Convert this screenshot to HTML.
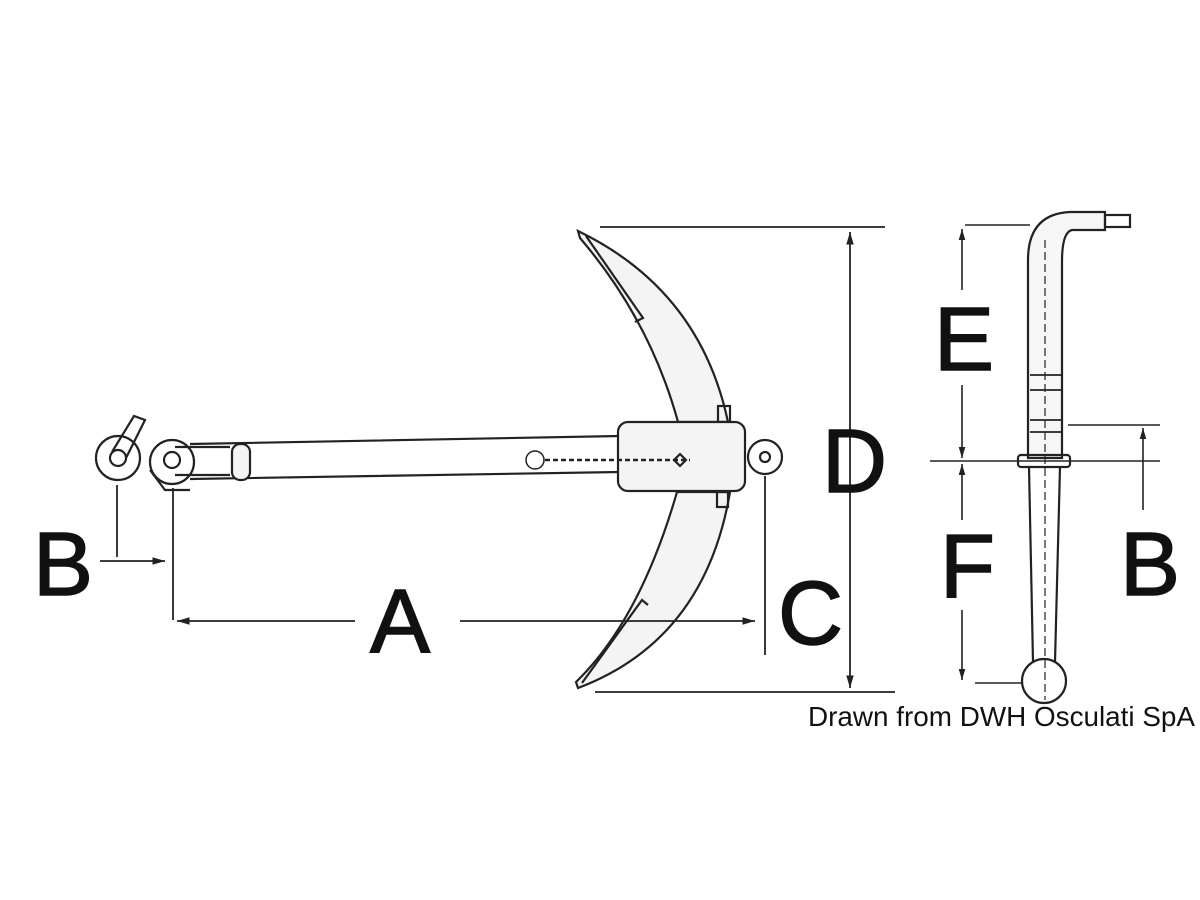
<!DOCTYPE html>
<html><head><meta charset="utf-8"><style>html,body{margin:0;padding:0;background:#fff}svg{display:block}</style></head>
<body>
<svg width="1200" height="900" viewBox="0 0 1200 900" xmlns="http://www.w3.org/2000/svg">
<defs><marker id="ar" viewBox="0 0 10 10" refX="10" refY="5" markerWidth="7" markerHeight="7" orient="auto-start-reverse"><path d="M0,2 L10,5 L0,8 z" fill="#222"/></marker></defs>
<g fill="none" stroke="#222" stroke-width="2.2">
<!-- upper fluke -->
<path d="M578,231 Q700,290 728,422 L678,422 Q650,320 580,238 Z" fill="#f4f4f4"/>
<path d="M586,236 L643,318 L635,322"/>
<!-- lower fluke -->
<path d="M578,688 Q705,640 730,492 L677,492 Q640,620 576,682 Z" fill="#f4f4f4"/>
<path d="M582,683 L642,600 L648,605"/>
<rect x="718" y="406" width="12" height="16"/>
<rect x="717" y="492" width="11" height="15"/>
<!-- shank -->
<path d="M190,444 L620,436 M190,479 L620,472"/>
<rect x="232" y="444" width="18" height="36" rx="8" fill="#f4f4f4"/>
<rect x="618" y="422" width="127" height="69" rx="10" fill="#f4f4f4"/>
<circle cx="765" cy="457" r="17"/><circle cx="765" cy="457" r="5"/>
<circle cx="535" cy="460" r="9" stroke-width="1.5"/>
<path d="M545,460 L690,460" stroke-dasharray="5,3" stroke-width="2.5"/>
<path d="M680,454 L686,460 L680,466 L674,460 Z"/>
<!-- shackles -->
<circle cx="118" cy="458" r="22"/><circle cx="118" cy="458" r="8"/>
<path d="M112,452 L134,416 L145,420 L126,458"/>
<circle cx="172" cy="462" r="22"/><circle cx="172" cy="460" r="8"/>
<path d="M175,447 L230,447 M175,475 L230,475 M150,470 L165,490 L190,490"/>
<!-- dims main -->
<path d="M600,227 L885,227 M595,692 L895,692" stroke-width="1.8"/>
<path d="M850,232 L850,688" stroke-width="1.8" marker-start="url(#ar)" marker-end="url(#ar)"/>
<path d="M355,621 L177,621" stroke-width="1.8" marker-end="url(#ar)"/>
<path d="M460,621 L755,621" stroke-width="1.8" marker-end="url(#ar)"/>
<path d="M765,476 L765,655 M117,485 L117,557 M173,488 L173,620" stroke-width="1.8"/>
<path d="M100,561 L165,561" stroke-width="1.8" marker-end="url(#ar)"/>
<!-- side view -->
<path d="M1028,458 L1028,260 Q1028,214 1070,212 L1105,212 L1105,230 L1072,230 Q1062,232 1062,262 L1062,458 Z" fill="#f6f6f6"/>
<rect x="1105" y="215" width="25" height="12"/>
<path d="M1029,467 L1033,662 M1060,467 L1055,662"/>
<rect x="1018" y="455" width="52" height="12" rx="3"/>
<circle cx="1044" cy="681" r="22"/>
<path d="M1045,240 L1045,700" stroke-dasharray="8,4" stroke-width="1.2"/>
<path d="M1030,375 L1062,375 M1030,390 L1062,390 M1030,420 L1062,420 M1030,432 L1062,432" stroke-width="1.8"/>
<path d="M965,225 L1030,225 M930,461 L1160,461 M1068,425 L1160,425 M975,683 L1022,683" stroke-width="1.6"/>
<path d="M962,290 L962,229" stroke-width="1.6" marker-end="url(#ar)"/>
<path d="M962,385 L962,458" stroke-width="1.6" marker-end="url(#ar)"/>
<path d="M962,520 L962,464" stroke-width="1.6" marker-end="url(#ar)"/>
<path d="M962,610 L962,680" stroke-width="1.6" marker-end="url(#ar)"/>
<path d="M1143,510 L1143,428" stroke-width="1.6" marker-end="url(#ar)"/>
</g>
<g font-family="Liberation Sans, sans-serif" font-size="90" fill="#111" stroke="#111" stroke-width="1.5">
<text x="33" y="595">B</text>
<text x="370" y="652">A</text>
<text x="778" y="644">C</text>
<text x="822" y="492">D</text>
<text x="934" y="370">E</text>
<text x="940" y="597">F</text>
<text x="1120" y="595">B</text>
</g>
<text x="808" y="726" font-family="Liberation Sans, sans-serif" font-size="28" fill="#111" textLength="387" lengthAdjust="spacingAndGlyphs">Drawn from DWH Osculati SpA</text>
</svg>
</body></html>
